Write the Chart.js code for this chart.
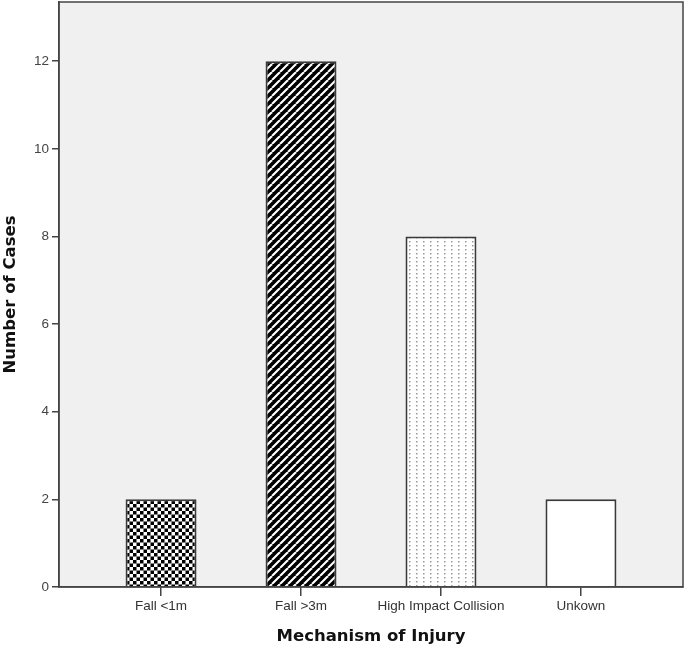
<!DOCTYPE html>
<html>
<head>
<meta charset="utf-8">
<script src="https://cdn.jsdelivr.net/npm/chart.js@4.4.0/dist/chart.umd.min.js"></script>
<style>
  html, body { margin: 0; padding: 0; background: #fff; }
  #wrap { width: 685px; height: 650px; }
</style>
</head>
<body>
<div id="wrap"><canvas id="chart"></canvas></div>
<script>
// data
const categories = ["Fall <1m", "Fall >3m", "High Impact Collision", "Unkown"];
const cases = [2, 12, 8, 2];
const yTicks = [0, 2, 4, 6, 8, 10, 12];

// patterns for the bar fills
function makePattern(w, h, draw) {
  const c = document.createElement("canvas");
  c.width = w; c.height = h;
  const g = c.getContext("2d");
  draw(g, w, h);
  return g.createPattern(c, "repeat");
}

const checker = makePattern(7, 7, (g) => {
  g.fillStyle = "#fff"; g.fillRect(0, 0, 7, 7);
  g.fillStyle = "#000";
  g.fillRect(0, 0, 3.5, 3.5);
  g.fillRect(3.5, 3.5, 3.5, 3.5);
});

const stripes = makePattern(8, 8, (g) => {
  g.fillStyle = "#000"; g.fillRect(0, 0, 8, 8);
  g.strokeStyle = "#fff"; g.lineWidth = 2.1;
  for (let k = -8; k <= 16; k += 8) {
    g.beginPath(); g.moveTo(k, 8); g.lineTo(k + 8, 0); g.stroke();
  }
});

const dots = makePattern(7, 4, (g) => {
  g.fillStyle = "#fff"; g.fillRect(0, 0, 7, 4);
  g.fillStyle = "#999";
  g.fillRect(3, 1, 1.5, 1.5);
});

const fills = [checker, stripes, dots, "#ffffff"];

const frame = {
  id: "frame",
  beforeDraw(chart) {
    const { ctx, chartArea: a } = chart;
    ctx.save();
    ctx.fillStyle = "#f0f0f0";
    ctx.fillRect(a.left, a.top, a.right - a.left, a.bottom - a.top);
    ctx.restore();
  },
  afterDraw(chart) {
    const { ctx, chartArea: a } = chart;
    ctx.save();
    ctx.strokeStyle = "#444";
    ctx.lineWidth = 1.5;
    ctx.strokeRect(a.left, a.top, a.right - a.left, a.bottom - a.top);
    ctx.restore();
  }
};

new Chart(document.getElementById("chart"), {
  type: "bar",
  data: {
    datasets: [{
      data: cases.map((v, i) => ({ x: i, y: v })),
      backgroundColor: fills,
      borderColor: "#3a3a3a",
      borderWidth: 2,
      barPercentage: 0.507,
      categoryPercentage: 1
    }]
  },
  options: {
    responsive: true,
    maintainAspectRatio: false,
    animation: false,
    layout: { padding: { top: 2, right: 2, left: 0, bottom: 0 } },
    plugins: { legend: { display: false }, tooltip: { enabled: false } },
    scales: {
      x: {
        type: "linear",
        offset: false,
        min: -0.729,
        max: 3.729,
        afterBuildTicks: (s) => { s.ticks = categories.map((c, i) => ({ value: i })); },
        afterFit: (s) => { s.height = 63; s.paddingLeft = 0; s.paddingRight = 0; },
        grid: { offset: false, drawOnChartArea: false, drawTicks: true, tickLength: 9, color: "#444", lineWidth: 1.5 },
        border: { color: "#444", width: 1.5 },
        ticks: {
          padding: 2,
          autoSkip: false,
          maxRotation: 0,
          color: "#333",
          font: { family: "Liberation Sans", size: 13.5 },
          callback: (v) => categories[v]
        },
        title: {
          display: true,
          text: "Mechanism of Injury",
          color: "#111",
          font: { family: "DejaVu Sans", size: 16.5, weight: "bold" },
          padding: { top: 0, bottom: 3 }
        }
      },
      y: {
        min: 0,
        max: 13.35,
        afterBuildTicks: (s) => { s.ticks = yTicks.map(v => ({ value: v })); },
        afterFit: (s) => { s.width = 59; s.paddingTop = 0; s.paddingBottom = 0; },
        grid: { drawOnChartArea: false, drawTicks: true, tickLength: 7, color: "#444", lineWidth: 1.5 },
        border: { color: "#444", width: 1.5 },
        ticks: {
          padding: 3,
          color: "#444",
          font: { family: "Liberation Sans", size: 13.5 }
        },
        title: {
          display: true,
          text: "Number of Cases",
          color: "#111",
          font: { family: "DejaVu Sans", size: 16.5, weight: "bold" },
          padding: { top: 1, bottom: 0 }
        }
      }
    }
  },
  plugins: [frame]
});
</script>
</body>
</html>
